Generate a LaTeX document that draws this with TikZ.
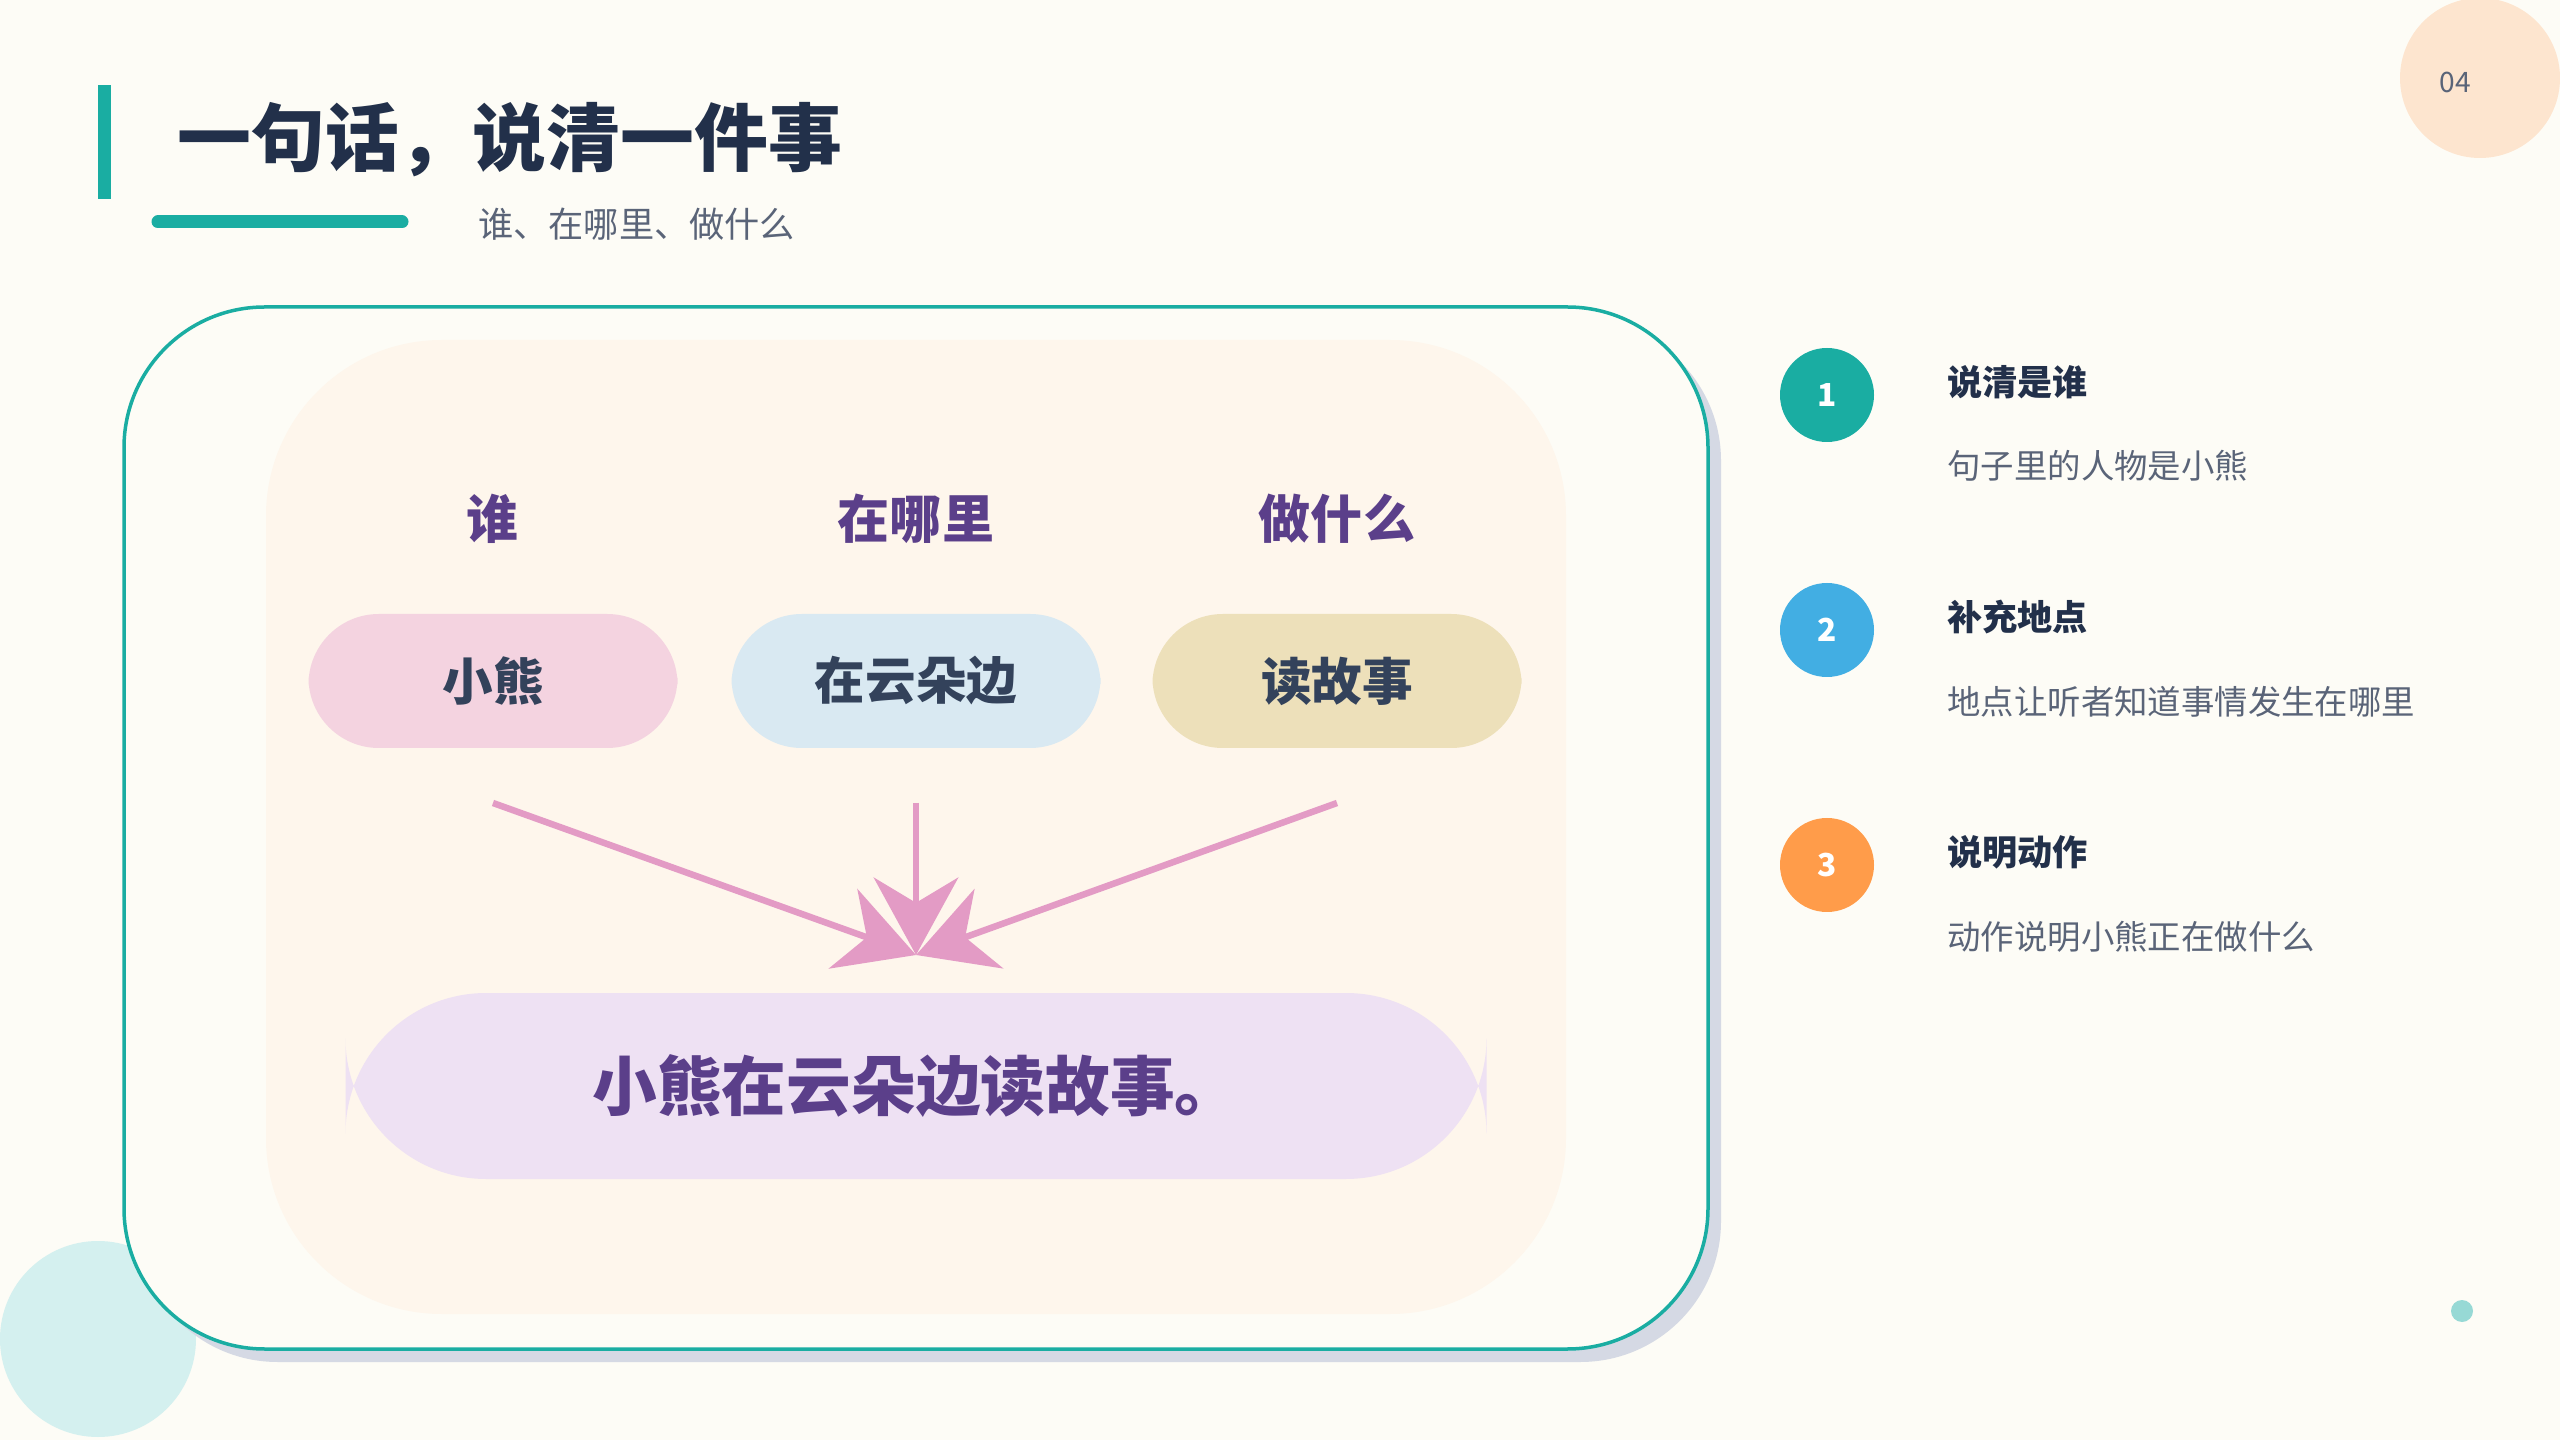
\documentclass[tikz,border=0pt]{standalone}
\usepackage{fontspec}
\setmainfont{Noto Sans CJK SC}
\usetikzlibrary{positioning,arrows.meta}
\definecolor{bgc}{HTML}{FDFCF6}
\definecolor{teal}{HTML}{1AADA2}
\definecolor{navy}{HTML}{22304A}
\definecolor{grayt}{HTML}{5A6478}
\definecolor{purp}{HTML}{5B3F8A}
\definecolor{boxt}{HTML}{33425B}
\definecolor{pinkb}{HTML}{F4D3E0}
\definecolor{blueb}{HTML}{D9E9F2}
\definecolor{khakib}{HTML}{EDE0BA}
\definecolor{lilac}{HTML}{EEE1F3}
\definecolor{panel}{HTML}{FEF6EC}
\definecolor{arrowc}{HTML}{E39BC5}
\definecolor{shadowc}{HTML}{D5D9E4}
\definecolor{mint}{HTML}{D4F0EF}
\definecolor{peach}{HTML}{FDE5CF}
\definecolor{dotc}{HTML}{97D9D5}
\definecolor{skyb}{HTML}{42AEE3}
\definecolor{orng}{HTML}{FF9C4A}

\begin{document}
\begin{tikzpicture}[
    x=0.01cm, y=-0.01cm,
    header/.style={font=\fontsize{14.8}{16}\selectfont\bfseries, text=purp},
    wordbox/.style={rectangle, rounded corners=20, minimum width=369*0.01cm, minimum height=134*0.01cm, font=\fontsize{14.4}{16}\selectfont\bfseries, text=boxt},
    numdot/.style={circle, minimum size=94*0.01cm, inner sep=0pt, text=white, font=\fontsize{9}{10}\selectfont\bfseries},
    steptitle/.style={anchor=west, font=\fontsize{10}{12}\selectfont\bfseries, text=navy},
    stepdesc/.style={anchor=west, font=\fontsize{9.5}{12}\selectfont, text=grayt},
    arrow/.style={-{Stealth[length=22, width=24]}, line width=6.5*0.01cm, arrowc}
]
% Background
\fill[bgc] (0,0) rectangle (2560,1440);
\useasboundingbox (0,0) rectangle (2560,1440);
\fill[mint] (98,1339) circle (98);
\fill[peach] (2480,78) circle (80);
\node[font=\fontsize{8}{10}\selectfont, text=grayt] (page) at (2455,82) {04};
\fill[dotc] (2462,1311) circle (11);

% Title
\fill[teal] (98,85) rectangle (111,199);
\node[anchor=west, font=\fontsize{21}{24}\selectfont\bfseries, text=navy] (title) at (165,140) {一句话，说清一件事};
\draw[teal, line width=13*0.01cm, line cap=round] (158,222) -- (402,222);
\node[anchor=west, font=\fontsize{10}{12}\selectfont, text=grayt] (subtitle) at (466,224) {谁、在哪里、做什么};

% Frame
\fill[shadowc, rounded corners=40] (137,320) rectangle (1721,1362);
\draw[teal, line width=3.5*0.01cm, fill=bgc, rounded corners=40] (124,307) rectangle (1708,1349);
\fill[panel, rounded corners=50] (266,340) rectangle (1566,1314);

% Headers
\node[header] (who) at (493,519) {谁};
\node[header] (where) at (916,519) {在哪里};
\node[header] (what) at (1337,519) {做什么};

% Word boxes
\node[wordbox, fill=pinkb] (bear) at (493,681) {小熊};
\node[wordbox, fill=blueb] (cloud) at (916,681) {在云朵边};
\node[wordbox, fill=khakib] (story) at (1337,681) {读故事};

% Sentence
\node[rectangle, rounded corners=40, fill=lilac, minimum width=1141*0.01cm, minimum height=186*0.01cm, font=\fontsize{18.4}{20}\selectfont\bfseries, text=purp] (sentence) at (916,1086) {小熊在云朵边读故事。};

% Arrows
\coordinate (meet) at (916,955);
\coordinate (s1) at (493,803);
\coordinate (s2) at (916,803);
\coordinate (s3) at (1337,803);
\draw[arrow] (s1) -- (meet);
\draw[arrow] (s2) -- (meet);
\draw[arrow] (s3) -- (meet);

% Steps
\node[numdot, fill=teal] (n1) at (1827,395) {1};
\node[steptitle] (t1) at (1935,382) {说清是谁};
\node[stepdesc] (d1) at (1935,466) {句子里的人物是小熊};

\node[numdot, fill=skyb] (n2) at (1827,630) {2};
\node[steptitle] (t2) at (1935,617) {补充地点};
\node[stepdesc] (d2) at (1935,702) {地点让听者知道事情发生在哪里};

\node[numdot, fill=orng] (n3) at (1827,865) {3};
\node[steptitle] (t3) at (1935,852) {说明动作};
\node[stepdesc] (d3) at (1935,937) {动作说明小熊正在做什么};
\end{tikzpicture}
\end{document}
